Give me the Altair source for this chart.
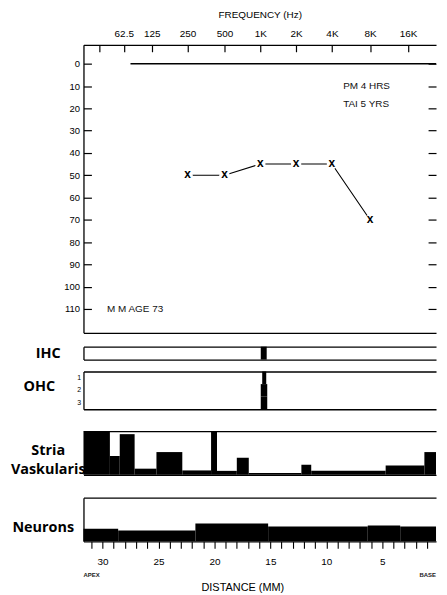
import altair as alt
import pandas as pd

# ---------------- data ----------------
# audiogram frequency axis (positions along the cochlea, mm from base)
freq_tick_labels = ["", "62.5", "125", "250", "500", "1K", "2K", "4K", "8K", "16K"]
freq_tick_mm = [30.3, 28.1, 25.6, 22.4, 19.1, 15.9, 12.7, 9.5, 6.1, 2.7]
db_ticks = [0, 10, 20, 30, 40, 50, 60, 70, 80, 90, 100, 110]

test_freqs = ["250", "500", "1K", "2K", "4K", "8K"]
thresholds_db = [50, 50, 45, 45, 45, 70]

zero_line_from_mm = [27.5]
zero_line_to_mm = [0.2]
zero_line_db = [0]

notes_text = ["PM 4 HRS", "TAI 5 YRS", "M M  AGE 73"]
notes_mm = [8.5, 8.5, 29.6]
notes_db = [10, 18, 110]

# hair cells (black = missing)
ihc_rows = ["IHC"]
ihc_from_mm = [15.86]
ihc_to_mm = [15.33]

ohc_rows = ["1", "2", "3"]
ohc_from_mm = [15.73, 15.86, 15.86]
ohc_to_mm = [15.37, 15.28, 15.28]

# stria vascularis
stria_from_mm = [31.7, 29.34, 28.46, 27.13, 25.18, 22.87, 20.30, 19.77, 18.0, 16.93, 12.23, 11.35, 4.70, 1.24]
stria_to_mm = [29.34, 28.46, 27.13, 25.18, 22.87, 20.30, 19.77, 18.0, 16.93, 12.23, 11.35, 4.70, 1.24, 0.2]
stria_pct = [100, 43, 93, 14, 52, 10, 100, 9, 39, 4, 23, 9, 21, 52]

# neurons
neuron_from_mm = [31.7, 28.6, 21.7, 15.2, 6.3, 3.4]
neuron_to_mm = [28.6, 21.7, 15.2, 6.3, 3.4, 0.2]
neuron_pct = [29, 25, 41, 34, 36, 34]

distance_ticks = list(range(1, 32))
distance_labels = [30, 25, 20, 15, 10, 5]
end_labels = ["APEX", "BASE"]
end_mm = [31.7, 0.2]

# ---------------- frames ----------------
aud_df = pd.DataFrame({
    "freq": test_freqs,
    "mm": [freq_tick_mm[freq_tick_labels.index(f)] for f in test_freqs],
    "db": thresholds_db,
})
zero_df = pd.DataFrame({"from": zero_line_from_mm, "to": zero_line_to_mm, "db": zero_line_db})
notes_df = pd.DataFrame({"note": notes_text, "mm": notes_mm, "db": notes_db})
ihc_df = pd.DataFrame({"row": ihc_rows, "from": ihc_from_mm, "to": ihc_to_mm})
ohc_df = pd.DataFrame({"row": ohc_rows, "from": ohc_from_mm, "to": ohc_to_mm})
stria_df = pd.DataFrame({"from": stria_from_mm, "to": stria_to_mm, "pct": stria_pct})
neuron_df = pd.DataFrame({"from": neuron_from_mm, "to": neuron_to_mm, "pct": neuron_pct})
ends_df = pd.DataFrame({"label": end_labels, "mm": end_mm, "align": ["left", "right"]})
dummy_df = pd.DataFrame({"v": [10]})

W = 355
xs = alt.Scale(domain=[31.7, 0.2], nice=False, zero=False)
ys = alt.Scale(domain=[-8.5, 120.7], reverse=True, nice=False, zero=False)
LW = 1.3


def dom_axis(orient):
    return alt.Axis(orient=orient, domain=True, domainColor="black", domainWidth=LW,
                    ticks=False, labels=False, grid=False, title=None)


def top_frame():
    return alt.Chart(dummy_df).mark_point(opacity=0).encode(
        x=alt.X("v:Q", scale=xs, axis=dom_axis("top")))


def spacer(h):
    return alt.Chart(dummy_df).mark_point(opacity=0).encode(
        x=alt.X("v:Q", axis=None), y=alt.Y("v:Q", axis=None)).properties(width=W, height=h)


freq_expr = "[" + ",".join("'" + s + "'" for s in freq_tick_labels) + "][indexof([" + \
    ",".join(str(v) for v in freq_tick_mm) + "], datum.value)]"
dist_expr = "indexof([" + ",".join(str(v) for v in distance_labels) + "], datum.value) >= 0 ? datum.label : ''"

top_axis = alt.Axis(orient="top", values=freq_tick_mm, labelExpr=freq_expr, offset=-7, tickSize=7,
                    tickWidth=1.2, domain=False, labelPadding=6, labelFontSize=10, title="FREQUENCY (Hz)",
                    titleFontSize=10, titleFontWeight="normal", titleY=-37, titleBaseline="middle")
left_axis = alt.Axis(orient="left", values=db_ticks, offset=-8, tickSize=8, tickWidth=1.2, domain=False,
                     labelPadding=4, labelFontSize=9.5, title=None)
right_axis = alt.Axis(orient="right", values=db_ticks, offset=-8, tickSize=8, tickWidth=1.2, domain=False,
                      labels=False, title=None)

zero_rule = alt.Chart(zero_df).mark_rule(color="black", strokeWidth=1.3).encode(
    x=alt.X("from:Q", scale=xs, axis=dom_axis("top")), x2="to:Q",
    y=alt.Y("db:Q", scale=ys, axis=right_axis))
line = alt.Chart(aud_df).mark_line(color="black", strokeWidth=1.1).encode(
    x=alt.X("mm:Q", scale=xs, axis=top_axis),
    y=alt.Y("db:Q", scale=ys, axis=left_axis))
gaps = alt.Chart(aud_df).mark_point(filled=True, color="white", opacity=1, size=110, shape="circle").encode(
    x=alt.X("mm:Q", scale=xs, axis=dom_axis("bottom")), y=alt.Y("db:Q", scale=ys, axis=dom_axis("left")))
marks = alt.Chart(aud_df).mark_text(text="x", fontSize=12, fontWeight="bold", dy=-1, color="black").encode(
    x=alt.X("mm:Q", scale=xs, axis=None), y=alt.Y("db:Q", scale=ys, axis=None))
notes = alt.Chart(notes_df).mark_text(align="left", baseline="middle", fontSize=10, color="#111").encode(
    x=alt.X("mm:Q", scale=xs, axis=None), y=alt.Y("db:Q", scale=ys, axis=None), text="note:N")

audiogram = alt.layer(zero_rule, line, gaps, marks, notes).resolve_axis(
    x="independent", y="independent").properties(width=W, height=290)

label_title = dict(titleAngle=0, titleAlign="center", titleBaseline="middle", titleFont="Open Sans",
                   titleFontWeight="bold", titleFontSize=14.5, titleColor="black")

ihc_rect = alt.Chart(ihc_df).mark_rect(color="black").encode(
    x=alt.X("from:Q", scale=xs, axis=dom_axis("bottom")), x2="to:Q",
    y=alt.Y("row:N", scale=alt.Scale(paddingInner=0, paddingOuter=0),
            axis=alt.Axis(labels=False, ticks=False, domain=True, domainWidth=LW, domainColor="black",
                          title="IHC", titleX=-36, titleY=7, **label_title)),
)
ihc = alt.layer(ihc_rect, top_frame()).resolve_axis(x="independent").properties(width=W, height=13)

ohc_rect = alt.Chart(ohc_df).mark_rect(color="black").encode(
    x=alt.X("from:Q", scale=xs, axis=dom_axis("bottom")), x2="to:Q",
    y=alt.Y("row:N", scale=alt.Scale(paddingInner=0, paddingOuter=0),
            axis=alt.Axis(ticks=False, domain=True, domainWidth=LW, domainColor="black",
                          labelFontSize=7, labelPadding=3,
                          title="OHC", titleX=-45, titleY=15, **label_title)),
)
ohc = alt.layer(ohc_rect, top_frame()).resolve_axis(x="independent").properties(width=W, height=38)

stria_rect = alt.Chart(stria_df).mark_rect(color="black").encode(
    x=alt.X("from:Q", scale=xs, axis=dom_axis("bottom")), x2="to:Q",
    y=alt.Y("pct:Q", scale=alt.Scale(domain=[0, 100], nice=False),
            axis=alt.Axis(labels=False, ticks=False, domain=False, grid=False,
                          title=["Stria", "Vaskularis"], titleX=-36, titleY=20, titleLineHeight=19,
                          **label_title)),
    y2=alt.datum(0),
)
stria = alt.layer(stria_rect, top_frame()).resolve_axis(x="independent").properties(width=W, height=44)

bottom_axis = alt.Axis(orient="bottom", values=distance_ticks, labelExpr=dist_expr, tickSize=7,
                       tickWidth=1.1, labelPadding=8, domain=True, domainWidth=LW, domainColor="black",
                       labelFontSize=10, title="DISTANCE (MM)",
                       titleX=160, titleY=47, titleBaseline="middle", titleAlign="center",
                       titleFontSize=11, titleFontWeight="normal")

neuron_bars = alt.Chart(neuron_df).mark_rect(color="black").encode(
    x=alt.X("from:Q", scale=xs, axis=bottom_axis), x2="to:Q",
    y=alt.Y("pct:Q", scale=alt.Scale(domain=[0, 100], nice=False),
            axis=alt.Axis(labels=False, ticks=False, domain=True, domainWidth=LW, domainColor="black",
                          grid=False, title="Neurons", titleX=-41, titleY=30, **label_title)),
    y2=alt.datum(0),
)
apex = alt.Chart(ends_df[ends_df["align"] == "left"]).mark_text(
    align="left", baseline="middle", fontSize=6, fontWeight="bold", color="#222").encode(
    x=alt.X("mm:Q", scale=xs, axis=None), y=alt.value(78), text="label:N")
base = alt.Chart(ends_df[ends_df["align"] == "right"]).mark_text(
    align="right", baseline="middle", fontSize=6, fontWeight="bold", color="#222").encode(
    x=alt.X("mm:Q", scale=xs, axis=None), y=alt.value(78), text="label:N")
neurons = alt.layer(neuron_bars, apex, base, top_frame()).resolve_axis(x="independent").properties(
    width=W, height=44)

chart = alt.vconcat(
    audiogram, spacer(14), ihc, spacer(12), ohc, spacer(22), stria, spacer(23), neurons,
    spacing=0, bounds="flush"
).properties(
    padding={"left": 2, "top": 0, "right": 0, "bottom": 0}
).configure(font="Liberation Sans").configure_view(
    strokeWidth=0
).configure_axis(
    grid=False, labelColor="black", tickColor="black", titleColor="black", labelFont="Liberation Sans"
)

chart.save("out.html", embed_options={"renderer": "svg", "actions": False})
